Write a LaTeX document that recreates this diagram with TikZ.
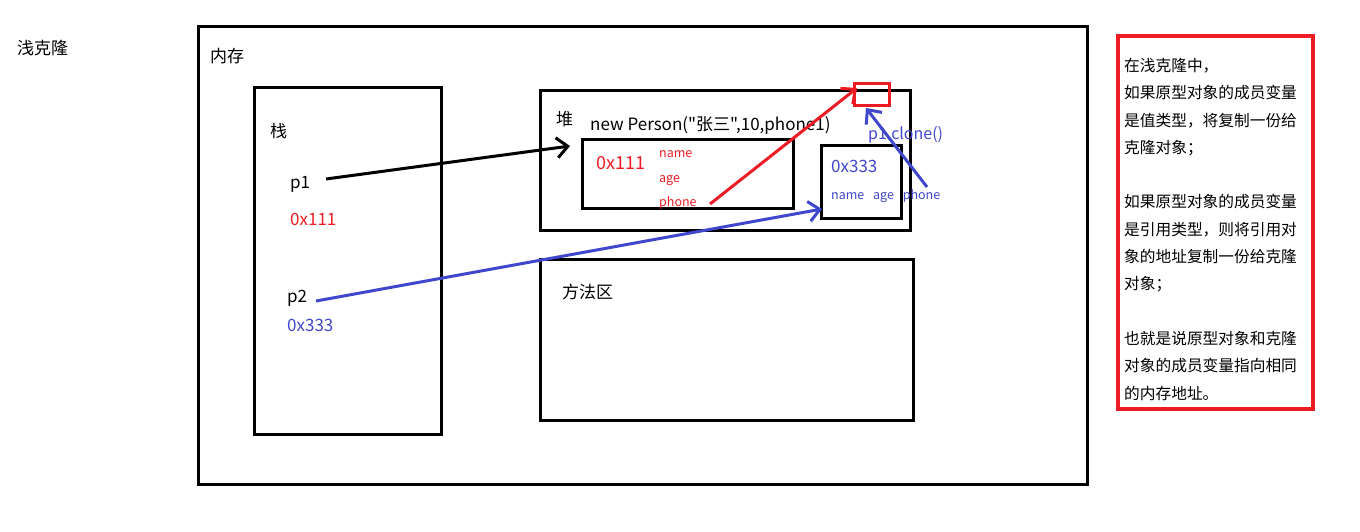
\documentclass[tikz,border=0pt]{standalone}
\usepackage{fontspec}
\setmainfont{Noto Sans CJK SC}
\newfontfamily\plainfont{Noto Sans CJK SC}
\usetikzlibrary{arrows.meta}
\definecolor{pred}{RGB}{237,28,36}
\definecolor{pblue}{RGB}{63,72,204}
\begin{document}
\begin{tikzpicture}[x=1pt,y=-1pt,
  box/.style={draw=black, line width=3pt, inner sep=0pt, anchor=north west, fill=none},
  lbl/.style={anchor=base west, inner sep=0pt, font=\fontsize{17}{20}\selectfont},
  big/.style={lbl, font=\fontsize{18}{20}\selectfont},
  small/.style={anchor=base west, inner sep=0pt, font=\fontsize{12.5}{14}\selectfont},
  conn/.style={line width=3pt, -{Straight Barb[length=11pt,width=20pt,line width=3pt]}}
]
\useasboundingbox (0,0) rectangle (1360,531);
% boxes
\node[box, minimum width=889pt, minimum height=458pt] (mem) at (197,25) {};
\node[box, minimum width=187pt, minimum height=347pt] (stack) at (253,86) {};
\node[box, minimum width=370pt, minimum height=140pt] (heap) at (539,89) {};
\node[box, minimum width=211pt, minimum height=69pt] (obj) at (581,138) {};
\node[box, minimum width=80pt, minimum height=73pt] (cl) at (820,144) {};
\node[box, minimum width=373pt, minimum height=161pt] (meth) at (539,258) {};
\node[box, draw=pred, minimum width=35pt, minimum height=22pt] (ref) at (853,82) {};
\node[box, draw=pred, line width=4pt, minimum width=195pt, minimum height=373pt] (note) at (1116,34) {};
% labels
\node[lbl] (title) at (17,54) {浅克隆};
\node[lbl] (memL) at (210,62) {内存};
\node[lbl] (stackL) at (270,137) {栈};
\node[lbl] (p1) at (290,188) {p1};
\node[lbl, text=pred] (p1v) at (290,225) {0x111};
\node[lbl] (p2) at (287,302) {p2};
\node[lbl, text=pblue] (p2v) at (287,331) {0x333};
\node[lbl] (heapL) at (556,125) {堆};
\node[lbl, font=\plainfont\fontsize{17}{20}\selectfont] (np) at (590,130) {new Person("张三",10,phone1)};
\node[big, text=pred] (ov) at (596,169) {0x111};
\node[small, text=pred] (f1) at (659,157) {name};
\node[small, text=pred] (f2) at (659,182) {age};
\node[small, text=pred] (f3) at (659,206) {phone};
\node[lbl, text=pblue] (cv) at (831,172) {0x333};
\node[small, text=pblue] (cf) at (831,199) {name\hspace{6pt} age\hspace{6pt} phone};
\node[lbl, text=pblue, font=\fontsize{16}{18}\selectfont] (clone) at (868,139) {p1.clone()};
\node[lbl] (methL) at (562,298) {方法区};
\node[anchor=north west, inner sep=0pt, align=left, font=\fontsize{15.7}{27.3}\selectfont] (nt) at (1124,58) {%
在浅克隆中，\\
如果原型对象的成员变量\\
是值类型，将复制一份给\\
克隆对象；\\[27.3pt]
如果原型对象的成员变量\\
是引用类型，则将引用对\\
象的地址复制一份给克隆\\
对象；\\[27.3pt]
也就是说原型对象和克隆\\
对象的成员变量指向相同\\
的内存地址。};
% connectors
\coordinate (a1s) at (326,179);
\coordinate (a1e) at (570,146);
\coordinate (a2s) at (316,301);
\coordinate (a2e) at (822,209);
\coordinate (a3s) at (710,204);
\coordinate (a3e) at (857,88);
\coordinate (a4s) at (927,187);
\coordinate (a4e) at (866,108);
\draw[conn, black] (a1s) -- (a1e);
\draw[conn, pblue] (a2s) -- (a2e);
\draw[conn, pred] (a3s) -- (a3e);
\draw[conn, pblue] (a4s) -- (a4e);
\end{tikzpicture}
\end{document}
